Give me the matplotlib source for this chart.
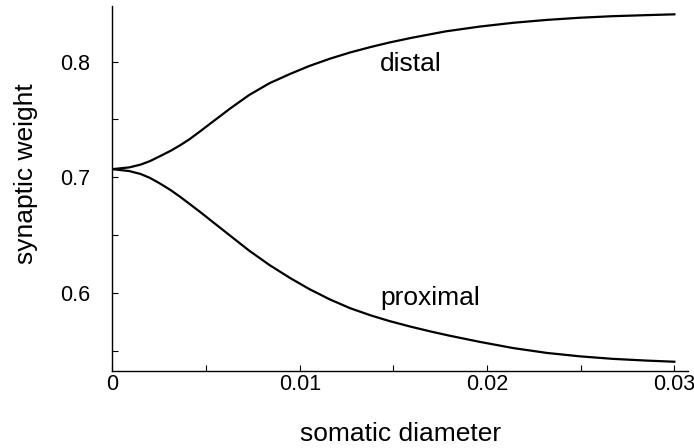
import matplotlib.pyplot as plt
from matplotlib.ticker import MultipleLocator

plt.rcParams['font.family'] = ['Liberation Sans', 'DejaVu Sans']

# values
distal_x = [0.0, 0.0009, 0.0015, 0.0020, 0.0025, 0.0031, 0.0036, 0.0041, 0.0047,
            0.0052, 0.0056, 0.0063, 0.0073, 0.0084, 0.0095, 0.0105, 0.0116, 0.0127,
            0.0138, 0.0148, 0.0160, 0.0178, 0.0196, 0.0214, 0.0232, 0.0250, 0.0267,
            0.0285, 0.0300]
distal_w = [0.7071, 0.7086, 0.7110, 0.7140, 0.7180, 0.7229, 0.7276, 0.7328, 0.7400,
            0.7462, 0.7511, 0.7597, 0.7712, 0.7815, 0.7895, 0.7962, 0.8025, 0.8080,
            0.8127, 0.8166, 0.8207, 0.8262, 0.8303, 0.8336, 0.8361, 0.8380, 0.8393,
            0.8402, 0.8409]

proximal_x = [0.0, 0.0009, 0.0015, 0.0020, 0.0025, 0.0031, 0.0036, 0.0041, 0.0047,
              0.0052, 0.0057, 0.0065, 0.0073, 0.0084, 0.0095, 0.0105, 0.0116, 0.0127,
              0.0138, 0.0148, 0.0159, 0.0170, 0.0180, 0.0196, 0.0214, 0.0232, 0.0250,
              0.0267, 0.0285, 0.0300]
proximal_w = [0.7071, 0.7054, 0.7029, 0.6995, 0.6950, 0.6890, 0.6833, 0.6772, 0.6698,
              0.6634, 0.6570, 0.6468, 0.6366, 0.6240, 0.6128, 0.6035, 0.5945, 0.5868,
              0.5806, 0.5757, 0.5710, 0.5667, 0.5631, 0.5578, 0.5524, 0.5482, 0.5452,
              0.5431, 0.5416, 0.5406]

fig = plt.figure(figsize=(6.94, 4.48), dpi=100)
ax = fig.add_axes([0.1621, 0.1719, 0.8293, 0.8147])

ax.plot(distal_x, distal_w, color='black', lw=1.6, solid_joinstyle='round')
ax.plot(proximal_x, proximal_w, color='black', lw=1.6, solid_joinstyle='round')

ax.text(0.01428, 0.7921, 'distal', fontsize=19, va='baseline', ha='left')
ax.text(0.01428, 0.5896, 'proximal', fontsize=19, va='baseline', ha='left')

ax.set_xlim(0, 0.03073)
ax.set_ylim(0.5326, 0.8481)

ax.set_xticks([0, 0.01, 0.02, 0.03])
ax.set_xticklabels(['0', '0.01', '0.02', '0.03'])
ax.set_yticks([0.6, 0.7, 0.8])
ax.set_yticklabels(['0.6', '0.7', '0.8'])
ax.xaxis.set_minor_locator(MultipleLocator(0.005))
ax.yaxis.set_minor_locator(MultipleLocator(0.05))

ax.tick_params(which='both', direction='in', length=4, width=0.8)
ax.tick_params(axis='y', which='major', pad=16, labelsize=15.5)
ax.tick_params(axis='x', which='major', pad=2, labelsize=15.5)

for s in ['top', 'right']:
    ax.spines[s].set_visible(False)
for s in ['left', 'bottom']:
    ax.spines[s].set_linewidth(1.0)

ax.set_xlabel('somatic diameter', fontsize=19)
ax.set_ylabel('synaptic weight', fontsize=19)
ax.xaxis.set_label_coords(0.5, -0.140)
ax.yaxis.set_label_coords(-0.1295, 0.54)

fig.savefig('out.png', dpi=100)
